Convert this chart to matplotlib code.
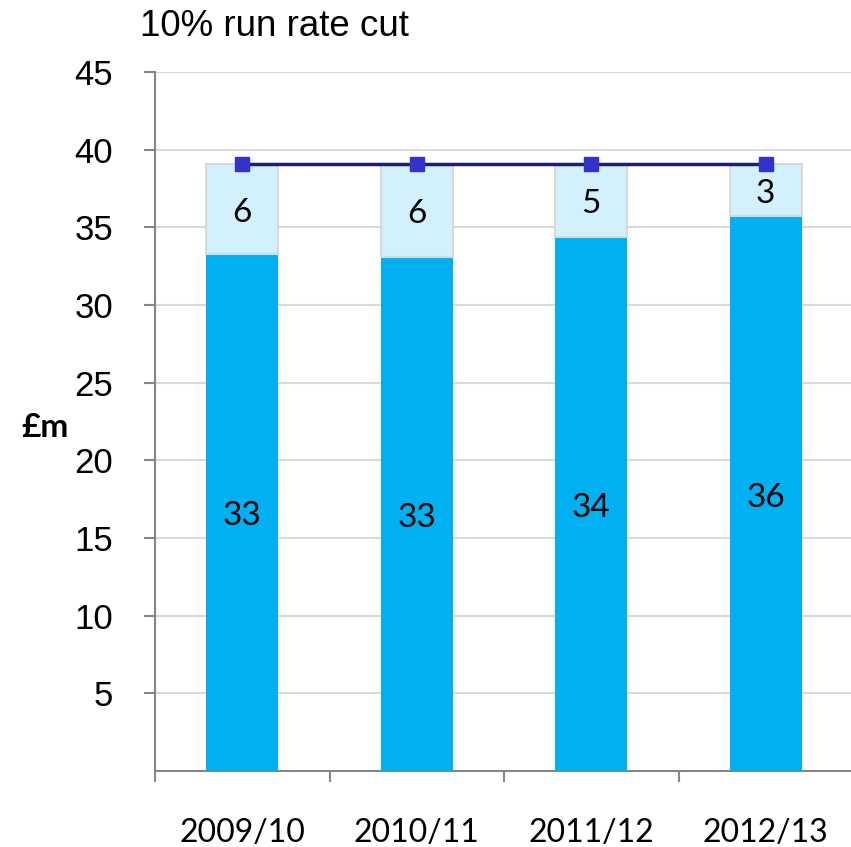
import matplotlib
matplotlib.use("Agg")
import matplotlib.pyplot as plt
import matplotlib.transforms as mtransforms
import numpy as np

categories = ["2009/10", "2010/11", "2011/12", "2012/13"]
base_values = [33.3, 33.1, 34.4, 35.7]
cut_values = [5.8, 6.0, 4.7, 3.4]
base_labels = ["33", "33", "34", "36"]
cut_labels = ["6", "6", "5", "3"]
total_line = [39.1, 39.1, 39.1, 39.1]
yticks = [5, 10, 15, 20, 25, 30, 35, 40, 45]

W, H = 851, 847
fig = plt.figure(figsize=(W / 100, H / 100), dpi=100)
left, right, top, bottom = 155, 853, 72, 771
ax = fig.add_axes([left / W, 1 - bottom / H, (right - left) / W, (bottom - top) / H])

x = np.arange(len(categories))
bw = 0.41
ax.bar(x, base_values, width=bw, color="#00B0F0", zorder=3)
ax.bar(x, cut_values, width=bw, bottom=base_values, color="#D3F1FC",
       edgecolor="#D9D9D9", linewidth=1.5, zorder=3)
ax.plot(x, total_line, color="#1F1F6E", linewidth=2.5, zorder=4)
ax.plot(x, total_line, linestyle="none", marker="s", markersize=10,
        markerfacecolor="#3333CC", markeredgecolor="#3333CC", zorder=5)

shift = mtransforms.offset_copy(ax.transData, fig=fig, x=0, y=-4, units="dots")
lab_font = dict(family=["Lato", "DejaVu Sans"], fontsize=24, color="black")
for i in range(len(x)):
    ax.text(x[i], base_values[i] / 2, base_labels[i], ha="center", va="center",
            zorder=6, transform=shift, **lab_font)
    ax.text(x[i], base_values[i] + cut_values[i] / 2, cut_labels[i], ha="center", va="center",
            zorder=6, transform=shift, **lab_font)

ax.set_xlim(-0.5, 3.5)
ax.set_ylim(0, 45)
ax.set_yticks(yticks)
ax.set_yticklabels([str(v) for v in yticks], fontsize=25, family=["Liberation Sans", "DejaVu Sans"])
ax.yaxis.grid(True, color="#D9D9D9", linewidth=1.5, zorder=0)
ax.set_axisbelow(True)

ax.set_xticks(x)
ax.set_xticklabels(categories, fontsize=23, family=["Lato", "DejaVu Sans"])
ax.tick_params(axis="x", length=0, pad=34)
ax.set_xticks(np.arange(-0.5, 4.0, 1.0), minor=True)
ax.tick_params(axis="x", which="minor", length=8, width=1.5, color="#868686", direction="out")
ax.tick_params(axis="y", length=8, width=1.5, color="#868686", direction="out", pad=22)

for s in ["top", "right"]:
    ax.spines[s].set_visible(False)
for s in ["left", "bottom"]:
    ax.spines[s].set_color("#868686")
    ax.spines[s].set_linewidth(1.5)

fig.text(45 / W, 1 - 427 / H, "£m", ha="center", va="center", fontsize=24,
         fontweight="bold", family=["Lato", "DejaVu Sans"])
fig.text(140 / W, 1 - 27 / H, "10% run rate cut", ha="left", va="center", fontsize=26.5,
         family=["Liberation Sans", "DejaVu Sans"])

fig.savefig("out.png", dpi=100)
